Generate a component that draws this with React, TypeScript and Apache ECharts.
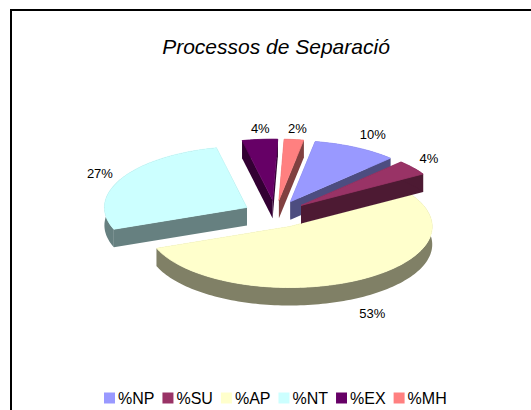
import React, { useEffect, useRef } from "react";
import * as echarts from "echarts";

const categories = ["%NP", "%SU", "%AP", "%NT", "%EX", "%MH"];
const values = [9.6, 4, 52.8, 27.4, 4, 2.2];
const topColors = ["#9999FF", "#993366", "#FFFFCC", "#CCFFFF", "#660066", "#FF8080"];
const sideColors = ["#4D4D80", "#4D1A33", "#808066", "#668080", "#330033", "#804040"];
const paintOrder = [3, 4, 5, 0, 2, 1];
const labelNudges = [[17, -12.5], [16, -9], [20, 32.5], [-21.6, -5], [0.4, -10.6], [3.4, -11.2]];

const PIE = { ox: 275.5, oy: 214, rx: 142.5, ry: 61, depth: 18, explode: 0.228, startDeg: -80 };
const total = values.reduce((a, b) => a + b, 0);

function sliceAngles(i: number) {
  let before = 0;
  for (let k = 0; k < i; k++) before += values[k];
  const a0 = ((PIE.startDeg + (before / total) * 360) * Math.PI) / 180;
  const a1 = a0 + (values[i] / total) * 2 * Math.PI;
  return [a0, a1];
}

function makeRenderItem(i: number) {
  return (_params: any, api: any) => {
    const [a0, a1] = sliceAngles(i);
    const mid = (a0 + a1) / 2;
    const { ox, oy, rx, ry, depth, explode } = PIE;
    const cx = ox + explode * rx * Math.cos(mid);
    const cy = oy + explode * ry * Math.sin(mid);
    const rim: number[][] = [];
    const n = Math.max(8, Math.ceil(((a1 - a0) * 180) / Math.PI / 1.5));
    for (let k = 0; k <= n; k++) {
      const t = a0 + ((a1 - a0) * k) / n;
      rim.push([cx + rx * Math.cos(t), cy + ry * Math.sin(t)]);
    }
    const side = sideColors[i];
    const wall = (pts: number[][]) => ({
      type: "polygon",
      shape: { points: pts },
      style: { fill: side },
      silent: true,
    });
    const children: any[] = [];
    const down = (p: number[]) => [p[0], p[1] + depth];
    children.push(wall([[cx, cy], rim[0], down(rim[0]), [cx, cy + depth]]));
    children.push(wall([[cx, cy], rim[n], down(rim[n]), [cx, cy + depth]]));
    children.push(wall([...rim, ...rim.slice().reverse().map(down)]));
    children.push({
      type: "polygon",
      shape: { points: [[cx, cy], ...rim] },
      style: { fill: topColors[i], stroke: topColors[i], lineWidth: 0.8 },
    });
    const pct = Math.round(api.value(0)) + "%";
    children.push({
      type: "text",
      style: {
        x: ox + (1 + explode) * rx * Math.cos(mid) + labelNudges[i][0],
        y: oy + (1 + explode) * ry * Math.sin(mid) + labelNudges[i][1],
        text: pct,
        fill: "#000",
        font: "13px 'Liberation Sans'",
        align: "center",
        verticalAlign: "middle",
      },
    });
    return { type: "group", children };
  };
}

export default function App() {
  const ref = useRef<HTMLDivElement>(null);
  useEffect(() => {
    document.body.style.margin = "0";
    const chart = echarts.init(ref.current!, undefined, { renderer: "svg" });
    chart.setOption({
      animation: false,
      backgroundColor: "#fff",
      title: {
        text: "Processos de Separació",
        left: 271,
        top: 31,
        textAlign: "center",
        textStyle: {
          fontFamily: "Liberation Sans",
          fontStyle: "italic",
          fontWeight: "normal",
          fontSize: 21,
          color: "#000",
        },
      },
      legend: {
        data: categories.map((name, i) => ({ name, icon: "rect", itemStyle: { color: topColors[i] } })),
        left: 104,
        top: 390,
        itemWidth: 11,
        itemHeight: 11,
        itemGap: 8,
        textStyle: { fontFamily: "Liberation Sans", fontSize: 16, color: "#000", padding: [0, 0, 0, -2] },
        padding: 0,
        selectedMode: false,
      },
      graphic: [
        {
          type: "rect",
          shape: { x: 11, y: 10, width: 530, height: 420 },
          style: { fill: "none", stroke: "#000", lineWidth: 2 },
          silent: true,
        },
      ],
      series: paintOrder.map((i) => ({
        type: "custom",
        name: categories[i],
        coordinateSystem: "none",
        itemStyle: { color: topColors[i] },
        renderItem: makeRenderItem(i),
        data: [[values[i]]],
        silent: true,
      })),
    });
    return () => chart.dispose();
  }, []);
  return <div ref={ref} style={{ width: 531, height: 410 }} />;
}
